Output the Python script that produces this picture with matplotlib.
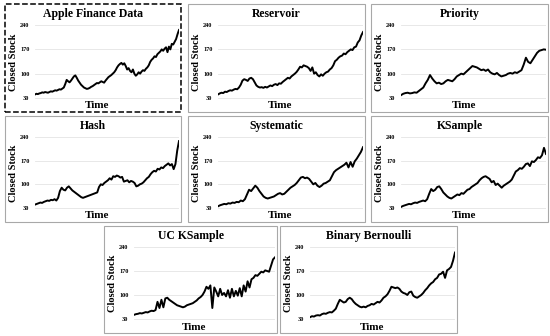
import matplotlib
matplotlib.use("Agg")
import matplotlib.pyplot as plt
from matplotlib.patches import Rectangle

# closing price series (one list per sampling method)
apple = [40, 42, 41, 43, 44, 46, 45, 47, 46, 45, 47, 49, 48, 50, 52, 51, 53, 55, 54, 57,
         60, 70, 82, 78, 75, 80, 86, 92, 95, 88, 80, 74, 68, 64, 60, 58, 56, 57, 59, 62,
         64, 67, 70, 73, 72, 75, 78, 76, 74, 80, 85, 90, 93, 96, 100, 104, 110, 118, 124, 128,
         131, 126, 130, 122, 112, 116, 108, 104, 112, 100, 94, 98, 104, 100, 106, 110, 108, 114, 118, 124,
         134, 140, 144, 150, 148, 156, 160, 164, 170, 166, 172, 176, 162, 178, 170, 186, 184, 192, 200, 214, 226]
reservoir = [40, 43, 45, 44, 48, 47, 50, 52, 51, 54, 56, 55, 60, 68, 80, 84, 82, 79, 86, 88,
             84, 75, 66, 62, 60, 61, 59, 62, 60, 63, 66, 64, 68, 70, 67, 72, 71, 76, 80, 84,
             88, 86, 92, 96, 100, 105, 112, 120, 118, 124, 122, 120, 116, 108, 118, 100, 104, 96, 92, 98,
             94, 100, 104, 106, 112, 116, 124, 136, 140, 146, 150, 152, 158, 156, 162, 166, 170, 168, 176, 178,
             190, 196, 210, 220]
priority = [38, 42, 44, 45, 43, 44, 46, 45, 50, 55, 60, 72, 82, 96, 86, 78, 72, 74, 70, 72,
            78, 82, 80, 78, 84, 92, 96, 100, 98, 104, 110, 116, 122, 120, 118, 114, 110, 112, 108, 112,
            104, 100, 98, 102, 96, 92, 94, 96, 100, 102, 100, 104, 102, 106, 110, 126, 146, 134, 130, 140,
            150, 160, 166, 168, 170, 169]
hash_s = [40, 42, 44, 46, 45, 48, 50, 52, 51, 54, 53, 56, 52, 60, 80, 90, 84, 82, 90, 94,
          88, 82, 78, 74, 70, 66, 62, 60, 62, 64, 66, 68, 70, 72, 74, 76, 92, 100, 98, 104,
          108, 112, 118, 114, 124, 122, 126, 124, 120, 122, 108, 110, 112, 106, 110, 108, 104, 94, 96, 100,
          102, 106, 112, 118, 122, 130, 136, 140, 138, 146, 144, 150, 148, 154, 158, 162, 156, 160, 145, 160,
          200, 228]
systematic = [35, 38, 40, 42, 41, 44, 43, 46, 45, 48, 47, 52, 50, 56, 70, 84, 80, 88, 96, 90,
              80, 72, 64, 60, 58, 60, 62, 64, 68, 72, 74, 70, 72, 78, 84, 90, 94, 98, 104, 112,
              120, 122, 118, 120, 116, 108, 100, 104, 96, 92, 96, 102, 104, 108, 112, 124, 136, 142, 146, 150,
              154, 158, 164, 150, 166, 152, 168, 176, 186, 196, 210]
ksample = [33, 36, 38, 40, 42, 41, 44, 46, 45, 48, 50, 52, 50, 56, 72, 86, 80, 84, 92, 94,
           86, 76, 70, 64, 60, 58, 62, 66, 70, 68, 74, 72, 78, 84, 86, 92, 96, 100, 104, 112,
           118, 122, 124, 120, 116, 106, 110, 98, 102, 96, 90, 96, 100, 104, 108, 114, 126, 138, 142, 148,
           146, 152, 160, 162, 154, 168, 166, 172, 180, 178, 186, 208, 190]
uc_ksample = [42, 44, 45, 47, 46, 48, 50, 49, 52, 54, 53, 56, 80, 62, 86, 64, 90, 92, 86, 82,
              78, 74, 70, 68, 66, 64, 66, 70, 72, 74, 76, 80, 84, 90, 94, 100, 110, 124, 118, 128,
              62, 122, 110, 96, 118, 100, 106, 96, 114, 92, 118, 96, 112, 98, 120, 96, 128, 110, 140, 122,
              146, 150, 158, 156, 162, 168, 166, 172, 170, 168, 186, 204, 210]
bernoulli = [35, 38, 37, 40, 41, 40, 44, 46, 45, 48, 50, 49, 54, 60, 74, 86, 82, 78, 80, 88,
             92, 88, 80, 74, 70, 66, 64, 66, 64, 68, 70, 74, 72, 76, 80, 78, 84, 92, 96, 102,
             112, 124, 122, 120, 122, 118, 110, 106, 104, 100, 108, 110, 98, 94, 92, 96, 100, 106, 114, 120,
             128, 134, 138, 146, 150, 160, 162, 168, 150, 172, 176, 182, 200, 224]

titles = ["Apple Finance Data", "Reservoir", "Priority", "Hash", "Systematic",
          "KSample", "UC KSample", "Binary Bernoulli"]
series = [apple, reservoir, priority, hash_s, systematic, ksample, uc_ksample, bernoulli]
yticks = [30, 100, 170, 240]

W, H = 550, 336
# panel boxes in pixels: left, top, right, bottom
boxes = [(5, 4, 181, 112), (188, 4, 365, 112), (371, 4, 548, 112),
         (5, 116, 181, 222), (188, 116, 365, 222), (371, 116, 548, 222),
         (104, 226, 277, 333), (280, 226, 457, 333)]

plt.rcParams["font.family"] = "Liberation Serif"
plt.rcParams["font.weight"] = "bold"
fig = plt.figure(figsize=(W / 100, H / 100), dpi=100)


def fx(x):
    return x / W


def fy(y):
    return 1 - y / H


for i, (l, t, r, b) in enumerate(boxes):
    first = i == 0
    fig.patches.append(Rectangle((fx(l), fy(b)), fx(r - l), (b - t) / H,
                                 transform=fig.transFigure, fill=False,
                                 edgecolor="black" if first else "#a8a8a8",
                                 linestyle="--" if first else "-",
                                 linewidth=1.1 if first else 0.8, zorder=0))
    ax = fig.add_axes([fx(l + 30), fy(b - 12), fx(r - l - 32), (b - t - 30) / H])
    ax.plot(range(len(series[i])), series[i], color="black", linewidth=1.4)
    ax.set_xlim(0, len(series[i]) - 1)
    ax.set_ylim(24, 249)
    ax.set_yticks(yticks)
    ax.set_yticklabels([str(v) for v in yticks], fontsize=4.5, fontweight="bold")
    ax.set_xticks([])
    ax.tick_params(axis="y", length=0, pad=4)
    ax.grid(axis="y", color="#e4e4e4", linewidth=0.6)
    ax.set_axisbelow(True)
    for s in ax.spines.values():
        s.set_visible(False)
    cx = (l + r) / 2
    fig.text(fx(cx), fy(t + 10), titles[i], ha="center", va="center",
             fontsize=8.5, fontweight="bold")
    fig.text(fx(cx + 4), fy(b - 6), "Time", ha="center", va="center",
             fontsize=8, fontweight="bold")
    fig.text(fx(l + 8.5), fy((t + b) / 2 + 4), "Closed Stock", ha="center", va="center",
             rotation=90, fontsize=7.5, fontweight="bold")

fig.savefig("out.png", dpi=100)
